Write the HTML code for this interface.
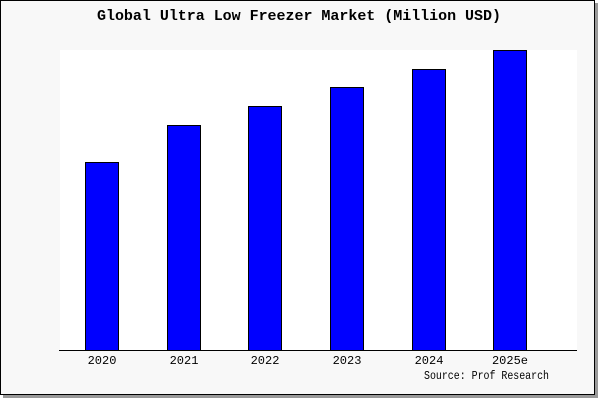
<!DOCTYPE html>
<html><head><style>
body{margin:0;width:600px;height:400px;background:#fff;overflow:hidden}
</style></head><body>
<svg width="600" height="400" xmlns="http://www.w3.org/2000/svg" font-family="Liberation Mono, DejaVu Sans Mono, monospace">
<rect x="3" y="3" width="595" height="395" fill="#999"/>
<rect x="0.5" y="0.5" width="594" height="394" fill="#f8f8f8" stroke="#000"/>
<rect x="60" y="50" width="517" height="300" fill="#fff"/>
<text x="299" y="20" text-anchor="middle" font-size="15" font-weight="bold" fill="#000" textLength="404">Global Ultra Low Freezer Market (Million USD)</text>
<g fill="#0000ff" stroke="#000" stroke-width="1">
<rect x="85.5" y="162.5" width="33" height="188"/>
<rect x="167.5" y="125.5" width="33" height="225"/>
<rect x="248.5" y="106.5" width="33" height="244"/>
<rect x="330.5" y="87.5" width="33" height="263"/>
<rect x="412.5" y="69.5" width="33" height="281"/>
<rect x="493.5" y="50.5" width="33" height="300"/>
</g>
<line x1="59" y1="350.5" x2="577" y2="350.5" stroke="#000"/>
<g font-size="12" fill="#000" text-anchor="middle">
<text x="102" y="364">2020</text>
<text x="184" y="364">2021</text>
<text x="265" y="364">2022</text>
<text x="347" y="364">2023</text>
<text x="429" y="364">2024</text>
<text x="510" y="364">2025e</text>
<text x="424" y="379" text-anchor="start" textLength="125" lengthAdjust="spacingAndGlyphs">Source: Prof Research</text>
</g>
</svg>
</body></html>
